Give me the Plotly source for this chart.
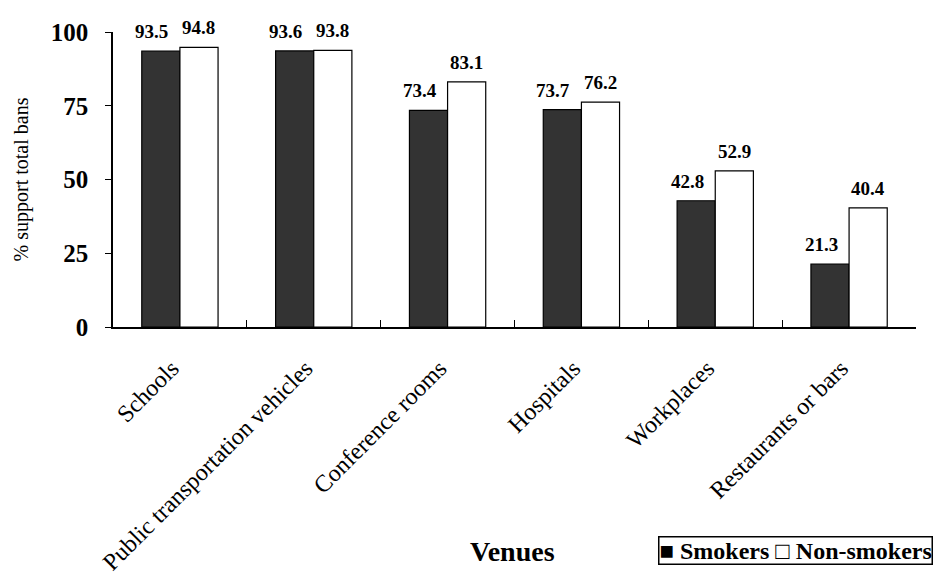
import plotly.graph_objects as go

venues = ["Schools", "Public transportation vehicles", "Conference rooms",
          "Hospitals", "Workplaces", "Restaurants or bars"]
smokers = [93.5, 93.6, 73.4, 73.7, 42.8, 21.3]
non_smokers = [94.8, 93.8, 83.1, 76.2, 52.9, 40.4]
y_ticks = [0, 25, 50, 75, 100]

SERIF = "Liberation Serif, Times New Roman, serif"

fig = go.Figure()
fig.add_trace(go.Bar(
    x=venues, y=smokers, name="Smokers",
    marker=dict(color="#333333", line=dict(color="black", width=1.2)),
))
fig.add_trace(go.Bar(
    x=venues, y=non_smokers, name="Non-smokers",
    marker=dict(color="white", line=dict(color="black", width=1.2)),
))

# value labels above each bar (anchored on the data values)
labels = []
for series, shift in ((smokers, -28), (non_smokers, 19)):
    for v, val in zip(venues, series):
        labels.append(dict(
            x=v, y=val, xref="x", yref="y", text=f"<b>{val:.1f}</b>",
            showarrow=False, xanchor="center", yanchor="bottom",
            xshift=shift, yshift=7,
            font=dict(family=SERIF, size=19, color="black"),
        ))

fig.update_layout(
    width=950, height=587,
    margin=dict(l=105, r=42, t=24, b=268, autoexpand=False),
    paper_bgcolor="white", plot_bgcolor="white",
    barmode="group", bargap=0.43, bargroupgap=0,
    font=dict(family=SERIF, color="black"),
    showlegend=False,
    xaxis=dict(
        type="category", showline=True, linecolor="black", linewidth=1.5,
        ticks="inside", tickson="boundaries", ticklen=7, tickcolor="black",
        tickangle=-45, tickfont=dict(family=SERIF, size=24, color="black"),
        showgrid=False, automargin=False, ticklabelstandoff=16,
        ticklabelshift=-8,
    ),
    yaxis=dict(
        range=[0, 100], tickvals=y_ticks, showline=True, linecolor="black",
        linewidth=1.5, ticks="outside", ticklen=6, tickcolor="black",
        tickfont=dict(family=SERIF, size=25, color="black", weight="bold"),
        showgrid=False, zeroline=False, automargin=False,
        ticklabelstandoff=12,
        title=dict(text="% support total bans", standoff=17,
                   font=dict(family=SERIF, size=20, color="black")),
    ),
    annotations=labels + [
        dict(
            text="<b>Venues</b>", x=0.498, xref="paper", y=-0.76, yref="paper",
            xanchor="center", yanchor="middle", showarrow=False,
            font=dict(family=SERIF, size=28, color="black"),
        ),
        dict(
            text="<b>■ Smokers □ Non-smokers</b>", x=0.679, xref="paper",
            y=-0.758, yref="paper", xanchor="left", yanchor="middle",
            showarrow=False, bordercolor="black", borderwidth=1.5, borderpad=0,
            bgcolor="white",
            font=dict(family=SERIF, size=24, color="black"),
        ),
    ],
)

fig.write_html("out.html")
